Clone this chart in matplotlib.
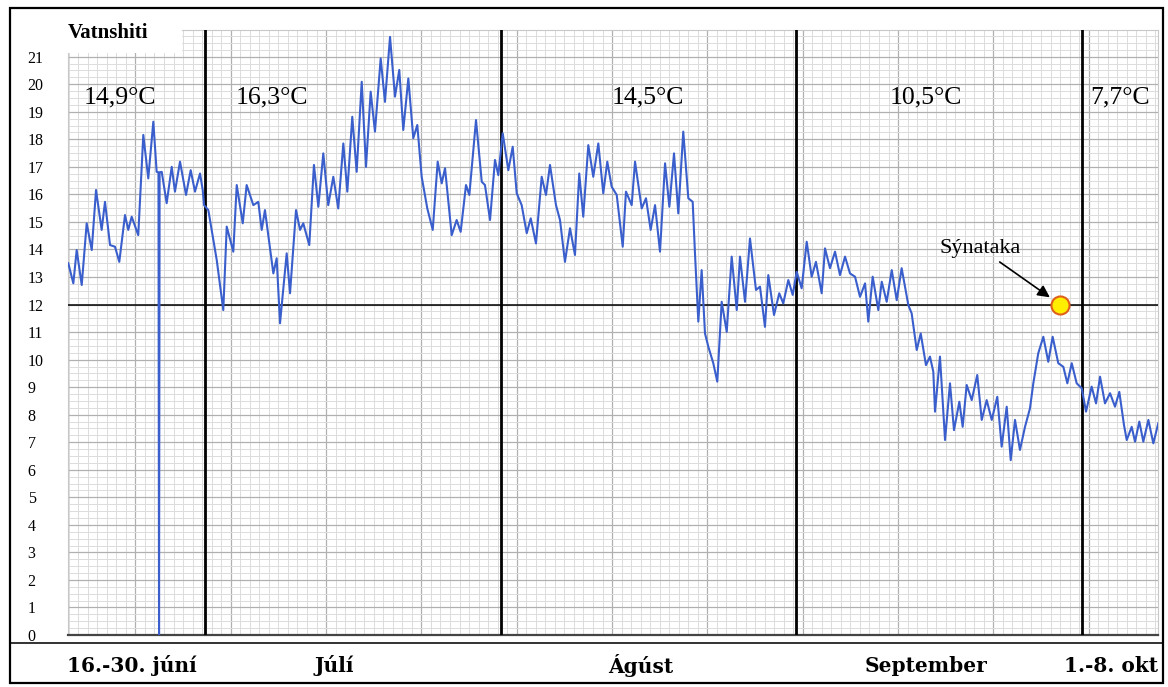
import numpy as np
import matplotlib.pyplot as plt
from matplotlib.patches import Rectangle
from matplotlib.lines import Line2D

# dagar frá 16. júní og vatnshiti (°C)
dagar = [0.66, 1.19, 1.54, 2.07, 2.59, 3.12, 3.57, 4.16, 4.51, 5.04,
         5.56, 6.01, 6.61, 6.95, 7.31, 8.00, 8.53, 9.05, 9.58, 9.93,
         10.12, 10.18, 10.24,
         10.46, 10.98, 11.51, 11.85, 12.38, 13.01, 13.50, 13.95, 14.48, 14.76,
         14.90, 15.35, 16.23, 16.92, 17.28, 17.97, 18.33, 18.96, 19.37, 20.07,
         20.59, 20.95, 21.29, 22.17, 22.52, 22.87, 23.57, 23.92, 24.55, 24.97,
         25.31, 25.94, 26.43, 26.89, 27.41, 27.93, 28.46, 28.98,
         29.51, 29.93, 30.45, 30.91, 31.44, 31.89, 32.38, 32.83, 33.43, 33.88,
         34.41, 34.93, 35.38, 35.80, 36.33, 36.85, 37.27, 37.73, 38.32, 38.89,
         39.41, 39.83, 40.18, 40.88, 41.40, 41.82, 42.38, 42.73, 43.43, 44.03,
         44.37, 44.90, 45.42, 45.77, 46.23, 46.82, 47.28, 47.70, 48.22, 48.75,
         49.17, 49.72, 50.32, 50.77, 51.19, 51.82, 52.24, 52.76, 53.29, 53.81,
         54.26, 54.68, 55.21, 55.73, 56.26, 56.78, 57.20, 57.66, 58.19, 58.82,
         59.16, 59.76, 60.11, 60.81, 61.26, 61.75, 62.21, 62.73, 63.26, 63.71,
         64.20, 64.65, 65.17, 65.70, 66.16, 66.40, 66.75, 67.10, 67.45, 67.80,
         68.32, 68.74, 69.20, 69.73, 70.25, 70.78, 71.12, 71.65, 72.17, 72.80,
         73.22, 73.74, 74.09, 74.69, 75.24, 75.66, 76.19, 76.65, 77.07, 77.59,
         78.12, 78.64, 79.09, 79.69, 80.04, 80.56, 81.09, 81.61, 82.14, 82.66,
         83.19, 83.71, 84.24, 84.58, 85.04, 85.63, 85.99, 86.51, 87.04, 87.56,
         88.08, 88.78, 89.13, 89.66, 90.08, 90.63, 91.05, 91.40, 91.58, 92.10,
         92.63, 93.15, 93.57, 94.13, 94.48, 94.90, 95.43, 96.01, 96.48, 97.00,
         97.53, 98.11, 98.57, 99.10, 99.52, 99.97, 100.49, 101.02, 101.54, 101.89,
         102.41, 102.94, 103.46, 103.92, 104.51, 105.04, 105.46, 105.92, 106.44, 106.97,
         107.42, 108.01, 108.47, 108.89, 109.41, 109.94, 110.46, 110.91, 111.40, 111.69,
         112.21, 112.56, 113.01, 113.43, 113.96, 114.48, 115.00]

hiti = [13.50, 12.77, 13.98, 12.71, 14.95, 13.98, 16.16, 14.71, 15.73, 14.16,
        14.10, 13.55, 15.25, 14.71, 15.19, 14.52, 18.16, 16.58, 18.64, 16.82,
        16.80, 0.00, 16.80,
        16.82, 15.68, 17.00, 16.10, 17.19, 15.98, 16.88, 16.10, 16.76, 16.16,
        15.61, 15.43, 13.62, 11.80, 14.83, 13.92, 16.34, 14.95, 16.34, 15.61,
        15.73, 14.71, 15.43, 13.13, 13.68, 11.32, 13.86, 12.41, 15.43, 14.71,
        14.95, 14.16, 17.07, 15.55, 17.49, 15.61, 16.64, 15.49,
        17.85, 16.10, 18.82, 16.82, 20.09, 17.00, 19.73, 18.28, 20.94, 19.36,
        21.72, 19.55, 20.52, 18.34, 20.21, 18.04, 18.52, 16.64, 15.49, 14.71,
        17.19, 16.40, 16.95, 14.52, 15.07, 14.64, 16.34, 15.98, 18.70, 16.46,
        16.34, 15.07, 17.25, 16.70, 18.22, 16.88, 17.73, 16.04, 15.61, 14.59,
        15.13, 14.22, 16.64, 15.98, 17.07, 15.61, 15.07, 13.55, 14.77, 13.80,
        16.76, 15.19, 17.79, 16.64, 17.85, 16.04, 17.19, 16.28, 15.98, 14.10,
        16.10, 15.61, 17.19, 15.49, 15.86, 14.71, 15.61, 13.92, 17.13, 15.55,
        17.49, 15.31, 18.28, 15.86, 15.73, 13.86, 11.38, 13.25, 10.95, 10.47,
        9.87, 9.20, 12.10, 11.01, 13.74, 11.80, 13.74, 12.10, 14.40, 12.53,
        12.65, 11.19, 13.07, 11.62, 12.41, 12.04, 12.89, 12.35, 13.19, 12.59,
        14.28, 13.01, 13.55, 12.41, 14.04, 13.32, 13.92, 13.07, 13.74, 13.13,
        13.01, 12.28, 12.77, 11.38, 13.01, 11.80, 12.83, 12.10, 13.25, 12.16,
        13.32, 11.98, 11.68, 10.35, 10.95, 9.80, 10.11, 9.56, 8.11, 10.11,
        7.08, 9.14, 7.44, 8.47, 7.56, 9.08, 8.53, 9.44, 7.81, 8.53,
        7.81, 8.65, 6.84, 8.29, 6.35, 7.81, 6.72, 7.56, 8.23, 9.14,
        10.23, 10.83, 9.92, 10.83, 9.87, 9.74, 9.14, 9.87, 9.14, 8.96,
        8.11, 9.02, 8.41, 9.38, 8.41, 8.78, 8.29, 8.83, 7.63, 7.08,
        7.56, 7.02, 7.75, 7.02, 7.81, 6.96, 7.69]

# mánaðamót (1. júlí, 1. ágúst, 1. sept, 1. okt)
manadamot = [15, 46, 77, 107]

# meðalhiti hvers tímabils
medal_texti = ['14,9°C', '16,3°C', '14,5°C', '10,5°C', '7,7°C']
medal_x = [6.1, 22.0, 61.5, 90.6, 111.0]

timabil = ['16.-30. júní', 'Júlí', 'Ágúst', 'September', '1.-8. okt']
timabil_x = [7.3, 28.6, 60.7, 90.6, 110.0]

synataka_dagur = 104.7
synataka_hiti = 12.0
vidmid = 12

fig = plt.figure(figsize=(11.68, 6.87), dpi=100)
ax = fig.add_axes([68 / 1168, 52 / 687, 1090 / 1168, 605 / 687])

ax.set_xlim(0.63, 114.97)
ax.set_ylim(0, 21.97)

# rúðunet
ax.set_xticks(np.arange(7.7, 115, 10))
ax.set_xticks(np.arange(0.7, 115.5, 1), minor=True)
ax.set_yticks(np.arange(0, 22, 1))
ax.set_yticks(np.arange(0, 22, 0.25), minor=True)
ax.grid(which='minor', color='#dcdcdc', lw=0.7)
ax.grid(which='major', color='#b0b0b0', lw=0.9)
ax.set_axisbelow(True)
ax.tick_params(which='both', length=0)
ax.tick_params(axis='x', labelbottom=False)
ax.tick_params(axis='y', pad=29, labelsize=11.5)
for lab in ax.get_yticklabels():
    lab.set_ha('left')
    lab.set_family('Liberation Serif')

for s in ['top', 'right', 'left']:
    ax.spines[s].set_color('#c8c8c8')
ax.spines['bottom'].set_color('#444444')
ax.spines['bottom'].set_linewidth(1.6)

for m in manadamot:
    ax.axvline(m, color='black', lw=2.0, zorder=3)
ax.axhline(vidmid, color='black', lw=1.1, zorder=3)

ax.plot(dagar, hiti, color='#3a5fcd', lw=1.5, zorder=4, solid_joinstyle='round')

for txt, x in zip(medal_texti, medal_x):
    ax.text(x, 19.53, txt, ha='center', va='center', fontsize=18.5,
            family='Liberation Serif', zorder=5)

ax.plot([synataka_dagur], [synataka_hiti], 'o', ms=13, mfc='#ffee00',
        mec='#e0601a', mew=1.5, zorder=6)
ax.annotate('Sýnataka', xy=(synataka_dagur, synataka_hiti), xytext=(96.3, 14.05),
            ha='center', va='center', fontsize=16, family='Liberation Serif',
            arrowprops=dict(arrowstyle='-|>', color='black', lw=1.2,
                            mutation_scale=18, shrinkA=2, shrinkB=9),
            zorder=6)

for txt, x in zip(timabil, timabil_x):
    ax.text(x, -0.0512, txt, transform=ax.get_xaxis_transform(), ha='center',
            va='center', fontsize=14.5, family='DejaVu Serif', weight='bold',
            clip_on=False)

# hvítur reitur fyrir fyrirsögn
fig.patches.append(Rectangle((63 / 1168, 1 - 53 / 687), 119 / 1168, 33 / 687,
                             transform=fig.transFigure, facecolor='white',
                             edgecolor='none', zorder=2))
fig.text(68 / 1168, 1 - 33 / 687, 'Vatnshiti', ha='left', va='center',
         fontsize=15, weight='bold', family='Liberation Serif', zorder=4)

# rammi og lína fyrir ofan mánaðaheiti
fig.lines.append(Line2D([10 / 1168, 1163 / 1168], [1 - 643 / 687, 1 - 643 / 687],
                        transform=fig.transFigure, color='#222222', lw=1.3))
fig.patches.append(Rectangle((10 / 1168, 4 / 687), 1153 / 1168, 675 / 687,
                             transform=fig.transFigure, facecolor='none',
                             edgecolor='black', lw=1.6, zorder=5))

fig.savefig('out.png', dpi=100)
